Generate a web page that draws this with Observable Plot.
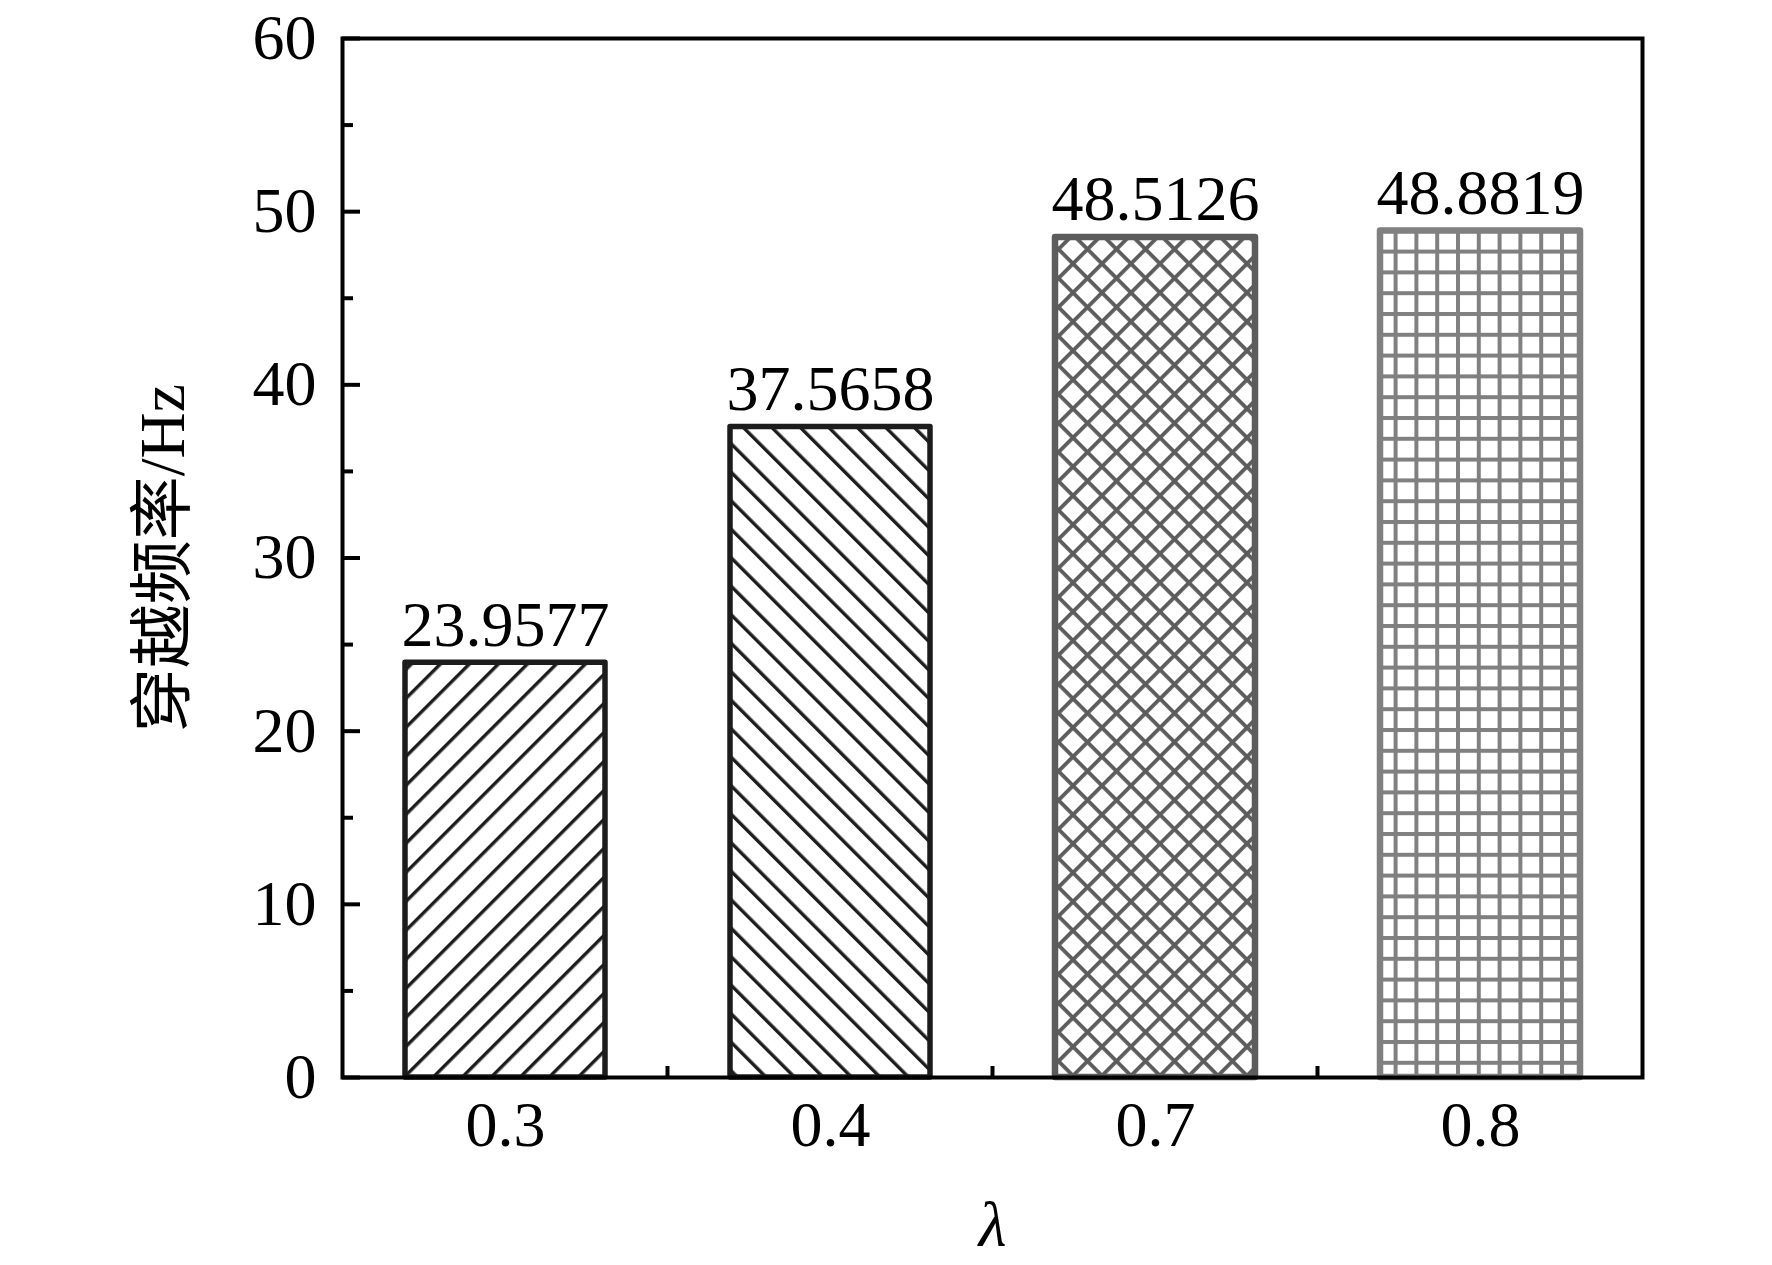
<!DOCTYPE html>
<html>
<head>
<meta charset="utf-8">
<script src="https://cdn.jsdelivr.net/npm/d3@7"></script>
<script src="https://cdn.jsdelivr.net/npm/@observablehq/plot@0.6"></script>
<style>
  html, body { margin: 0; padding: 0; background: #fff; }
</style>
</head>
<body>
<div id="chart"></div>
<script>
// ---- data ----
const lambdas = ["0.3", "0.4", "0.7", "0.8"];
const freqs = [23.9577, 37.5658, 48.5126, 48.8819];
const valueLabels = ["23.9577", "37.5658", "48.5126", "48.8819"];
const yMajorTicks = [0, 10, 20, 30, 40, 50, 60];
const yMinorTicks = [5, 15, 25, 35, 45, 55];
const xTitle = "λ";
const yTitle = "穿越频率/Hz";

// ---- styles (not data) ----
const barStyles = [
  {id: "pat-diag-r", kind: "diagR", period: 29, color: "#1c1c1c", lw: 3.4, stroke: "#1c1c1c", sw: 5.5},
  {id: "pat-diag-l", kind: "diagL", period: 28.5, color: "#1c1c1c", lw: 3.4, stroke: "#1c1c1c", sw: 5.5},
  {id: "pat-cross", kind: "cross", period: 29, color: "#5c5c5c", lw: 3.8, stroke: "#5c5c5c", sw: 6.5},
  {id: "pat-grid", kind: "grid", period: 20.8, color: "#808080", lw: 4, stroke: "#808080", sw: 6.5}
];

const data = lambdas.map((l, i) => ({lambda: l, value: freqs[i], label: valueLabels[i], style: barStyles[i]}));

const font = "'Liberation Serif', 'Times New Roman', 'Noto Sans CJK SC', serif";

const chart = Plot.plot({
  width: 1772,
  height: 1265,
  marginLeft: 342,
  marginRight: 130,
  marginTop: 38,
  marginBottom: 188,
  style: {fontFamily: font, fontSize: "64px", color: "#000", background: "#fff"},
  x: {domain: lambdas, paddingInner: 0.385, paddingOuter: 0.1925, label: null},
  y: {domain: [0, 60], label: null},
  color: {type: "identity"},
  marks: [
    Plot.barY(data, {
      x: "lambda", y: "value",
      fill: d => `url(#${d.style.id})`,
      stroke: d => d.style.stroke,
      strokeWidth: 6,
      strokeLinejoin: "round"
    }),
    Plot.text(data, {
      x: "lambda", y: "value", text: "label",
      lineAnchor: "bottom", dy: -17,
      fontSize: 64, fill: "#000"
    }),
    Plot.axisY({ticks: yMajorTicks, tickSize: 0, tickPadding: 26, fontSize: 64, label: null, tickFormat: d => String(d)}),
    Plot.axisY({ticks: yMajorTicks, tickSize: -18, strokeWidth: 4, tickFormat: () => "", label: null}),
    Plot.axisY({ticks: yMinorTicks, tickSize: -11, strokeWidth: 4, tickFormat: () => "", label: null}),
    Plot.axisX({tickSize: 0, tickPadding: 23, fontSize: 64, label: null}),
    Plot.frame({stroke: "#000", strokeWidth: 4}),
    Plot.text([xTitle], {frameAnchor: "bottom", lineAnchor: "bottom", textAnchor: "middle", dy: 168, fontSize: 64, fontStyle: "italic", fill: "#000"}),
    Plot.text([yTitle], {frameAnchor: "left", rotate: -90, lineAnchor: "middle", textAnchor: "middle", dx: -179, fontSize: 64, fill: "#000"})
  ]
});

// ---- patterns ----
const svg = d3.select(chart);
const defs = svg.insert("defs", ":first-child");
for (const s of barStyles) {
  const diag = s.kind === "diagR" || s.kind === "diagL" || s.kind === "cross";
  const size = diag ? s.period / Math.SQRT2 : s.period;
  const p = defs.append("pattern")
    .attr("id", s.id)
    .attr("patternUnits", "userSpaceOnUse")
    .attr("width", size).attr("height", size);
  if (s.kind === "diagR" || s.kind === "cross") p.attr("patternTransform", "rotate(45)");
  if (s.kind === "diagL") p.attr("patternTransform", "rotate(-45)");
  p.append("rect").attr("width", size).attr("height", size).attr("fill", "#fff");
  p.append("rect").attr("x", 0).attr("y", 0).attr("width", s.lw).attr("height", size).attr("fill", s.color);
  if (s.kind === "cross" || s.kind === "grid") {
    p.append("rect").attr("x", 0).attr("y", 0).attr("width", size).attr("height", s.lw).attr("fill", s.color);
  }
}

// per-bar stroke widths
svg.selectAll("g[aria-label='bar'] rect").each(function(_, i) {
  d3.select(this).attr("stroke-width", barStyles[i].sw);
});

// ---- x boundary ticks (between categories), positioned by the x scale ----
const xs = chart.scale("x");
const ys = chart.scale("y");
const y0 = ys.apply(0);
const tickG = svg.append("g").attr("stroke", "#000").attr("stroke-width", 4);
for (let i = 0; i < lambdas.length - 1; i++) {
  const bx = (xs.apply(lambdas[i]) + xs.apply(lambdas[i + 1])) / 2 + xs.bandwidth / 2;
  tickG.append("line").attr("x1", bx).attr("x2", bx).attr("y1", y0).attr("y2", y0 - 11);
}

document.getElementById("chart").appendChild(chart);
</script>
</body>
</html>
